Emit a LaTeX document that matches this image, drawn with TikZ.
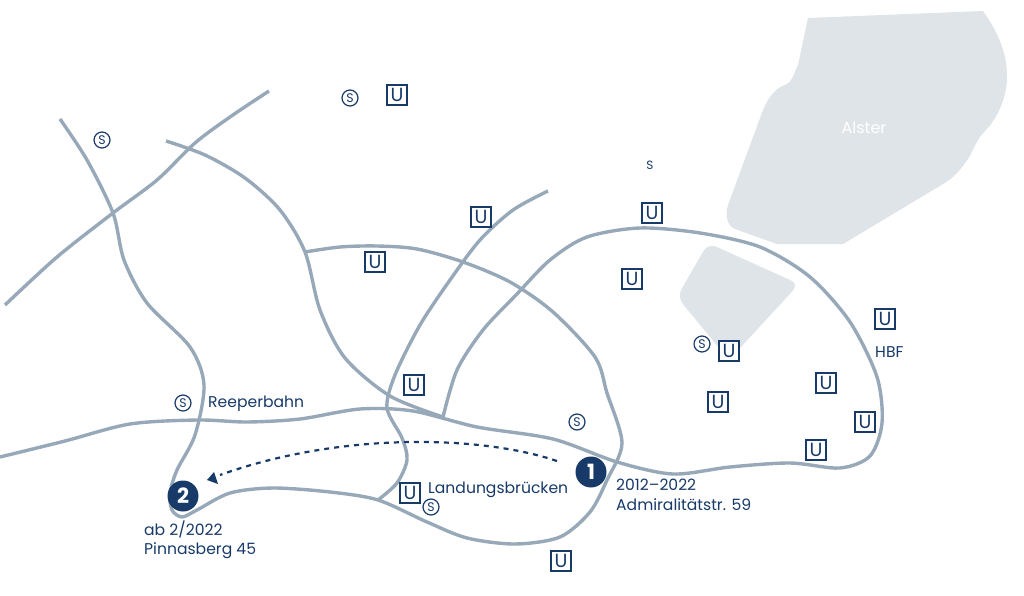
\documentclass[tikz,border=0pt]{standalone}
\usepackage{fontspec}
\setmainfont{Poppins}
\definecolor{navy}{HTML}{173A68}
\definecolor{road}{HTML}{97A9B8}
\definecolor{water}{HTML}{DFE4E8}
\tikzset{
	ubahn/.style={draw=navy, line width=2pt, minimum size=20pt, inner sep=0pt, text=navy, font=\fontsize{19}{19}\selectfont},
	sbahn/.style={draw=navy, circle, line width=1.2pt, minimum size=16pt, inner sep=0pt, text=navy, font=\fontsize{12.5}{12.5}\selectfont},
	place/.style={text=navy, font=\fontsize{15.6}{19.5}\selectfont, align=left, anchor=west, inner sep=0pt},
	marker/.style={fill=navy, circle, minimum size=31pt, inner sep=0pt, text=white, font=\fontsize{21}{21}\selectfont\bfseries},
	street/.style={draw=road, line width=3.4pt, line join=round},
}
\begin{document}
\begin{tikzpicture}[x=1pt, y=-1pt]
	\useasboundingbox (0, 0) rectangle (1024, 596);

	%%%%% water %%%%%
	\fill[water] (808, 18) -- (983, 11) .. controls (1000, 35) and (1007, 55) .. (1007, 77) .. controls (1007, 100) and (995, 122) .. (983, 133) .. controls (975, 142) and (972, 155) .. (965, 163) .. controls (955, 178) and (945, 183) .. (933, 190) -- (843, 244) -- (777, 244) -- (735, 229) .. controls (727, 226) and (725, 215) .. (728, 205) -- (763, 110) .. controls (768, 98) and (775, 88) .. (785, 85) .. controls (793, 82) and (795, 70) .. (798, 65) -- cycle;
	\fill[water, rounded corners=9pt] (708, 243) -- (799, 284) -- (729, 360) -- (677, 297) -- cycle;
	\node[text=white, font=\fontsize{16}{16}\selectfont] (alster) at (864, 128) {Alster};

	%%%%% streets %%%%%
	\draw[street] plot[smooth] coordinates {(0, 457) (65, 441) (130, 424) (198, 420) (247, 422) (300, 419) (360, 409) (413, 411) (477, 427) (553, 439) (617, 462) (673, 474) (730, 467) (790, 463) (840, 468) (870, 456) (882, 423) (877, 377) (850, 322) (810, 277) (760, 247) (700, 233) (640, 228) (587, 237) (550, 260) (516, 295) (483, 330) (457, 370) (443, 417)};
	\draw[street] plot[smooth] coordinates {(60, 119) (87, 160) (113, 213) (124, 260) (147, 303) (190, 347) (204, 385) (195, 435) (177, 470) (170, 493) (172, 510) (182, 517) (197, 510) (230, 493) (273, 488) (330, 492) (378, 500) (427, 522) (467, 538) (515, 544) (560, 537) (590, 512) (607, 480) (622, 443) (607, 393) (595, 357) (553, 312) (510, 282) (463, 262) (417, 249) (377, 246) (340, 247) (305, 252)};
	\draw[street] plot[smooth] coordinates {(166, 141) (205, 155) (245, 178) (280, 210) (305, 252) (320, 310) (345, 358) (390, 396) (443, 417)};
	\draw[street] plot[smooth] coordinates {(5, 305) (57, 257) (113, 213) (157, 180) (195, 143) (230, 117) (269, 91)};
	\draw[street] plot[smooth] coordinates {(548, 191) (513, 210) (480, 240) (450, 280) (420, 325) (395, 375) (387, 408) (402, 438) (407, 460) (397, 483) (378, 500)};

	%%%%% stations %%%%%
	\foreach \name/\xpos/\ypos in {a/397/95, b/481/217, c/652/213, d/375/262, e/632/279, f/885/319, g/729/351, h/826/383, i/718/402, j/414/385, k/865/422, l/816/450, m/410/493, n/561/561}
		\node[ubahn, fill=white] (u\name) at (\xpos, \ypos) {U};
	\foreach \name/\xpos/\ypos in {a/350/98, b/102/140, c/702/344, d/183/403, e/577/422, f/431/507}
		\node[sbahn] (s\name) at (\xpos, \ypos) {S};
	\node[text=navy, font=\fontsize{12}{12}\selectfont] (plains) at (650, 165) {S};

	%%%%% labels %%%%%
	\node[place] (reeperbahn) at (208, 404) {Reeperbahn};
	\node[place] (landungen) at (428, 490) {Landungsbrücken};
	\node[place] (hbf) at (875, 352) {HBF};
	\node[place] (oldplace) at (616, 495) {2012–2022\\Admiralitätstr. 59};
	\node[place] (newplace) at (144, 540) {ab 2/2022\\Pinnasberg 45};

	%%%%% move %%%%%
	\node[marker] (one) at (591, 472) {1};
	\node[marker] (two) at (183, 496) {2};
	\coordinate (start) at (557, 461);
	\coordinate (stop) at (207, 480);
	\draw[navy, line width=2.2pt, dash pattern=on 5pt off 5pt] (start) .. controls (480, 435) and (340, 432) .. (220, 475);
	\fill[navy] (stop) -- (214, 472) -- (218, 484) -- cycle;
\end{tikzpicture}
\end{document}
